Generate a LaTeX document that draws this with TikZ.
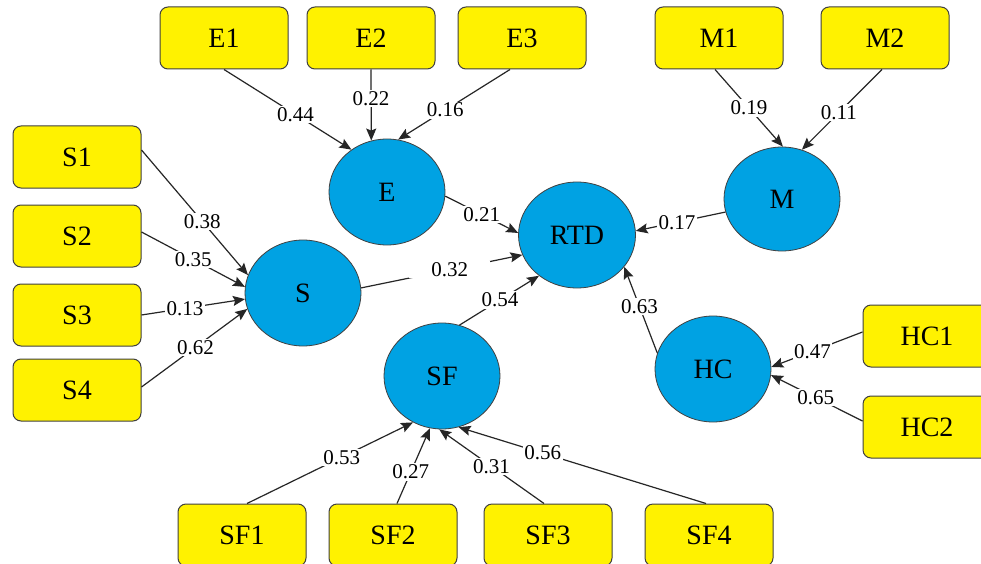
\documentclass[tikz,border=0pt]{standalone}
\usepackage{fontspec}
\setmainfont{Liberation Serif}
\usetikzlibrary{shapes.geometric,arrows.meta}
\definecolor{boxyellow}{RGB}{255,242,0}
\definecolor{circblue}{RGB}{0,162,227}
\definecolor{edgegray}{RGB}{64,64,64}
\tikzset{
  indic/.style={rectangle, rounded corners=8pt, draw=edgegray, line width=1pt, fill=boxyellow,
    minimum width=128pt, minimum height=62pt, inner sep=0pt, font=\fontsize{28}{30}\selectfont},
  latent/.style={ellipse, draw=edgegray, line width=0.8pt, fill=circblue,
    minimum width=116pt, minimum height=106pt, inner sep=0pt, font=\fontsize{28}{30}\selectfont},
  conn/.style={draw=black!85, line width=1.2pt, -{Stealth[length=12pt,width=10pt,inset=2pt]}},
  wt/.style={fill=white, inner sep=1.5pt, font=\fontsize{21}{22}\selectfont}
}
\begin{document}
\begin{tikzpicture}[x=1pt,y=-1pt]
\clip (0,0) rectangle (981,564);
\useasboundingbox (0,0) rectangle (981,564);
\fill[white] (0,0) rectangle (981,564);
% indicators
\node[indic] (E1) at (224,38) {E1};
\node[indic] (E2) at (371,38) {E2};
\node[indic] (E3) at (522,38) {E3};
\node[indic] (M1) at (719,38) {M1};
\node[indic] (M2) at (885,38) {M2};
\node[indic] (S1) at (77,157) {S1};
\node[indic] (S2) at (77,236) {S2};
\node[indic] (S3) at (77,315) {S3};
\node[indic] (S4) at (77,390) {S4};
\node[indic] (HC1) at (927,336) {HC1};
\node[indic] (HC2) at (927,427) {HC2};
\node[indic] (SF1) at (242,535) {SF1};
\node[indic] (SF2) at (393,535) {SF2};
\node[indic] (SF3) at (548,535) {SF3};
\node[indic] (SF4) at (709,535) {SF4};
% latent variables
\node[latent] (E) at (387,192) {E};
\node[latent, minimum width=117pt, minimum height=106pt] (RTD) at (577,235) {RTD};
\node[latent, minimum height=104pt] (M) at (782,199) {M};
\node[latent] (S) at (303,293) {S};
\node[latent] (SF) at (442,376) {SF};
\node[latent] (HC) at (713,369) {HC};
% connectors
\draw[conn] (E1.south) -- node[wt,pos=.56]{0.44} (E.130);
\draw[conn] (E2.south) -- node[wt,pos=.41]{0.22} (E.107);
\draw[conn] ([xshift=-12pt]E3.south) -- node[wt,pos=.58]{0.16} (E.78);
\draw[conn] ([xshift=-4pt]M1.south) -- node[wt,pos=.5]{0.19} (M.89);
\draw[conn] ([xshift=-3pt]M2.south) -- node[wt,pos=.54]{0.11} (M.68);
\draw[conn] ([yshift=7pt]S1.east) -- node[wt,pos=.57]{0.38} (S.162);
\draw[conn] ([yshift=4pt]S2.east) -- node[wt,pos=.5]{0.35} (S.174);
\draw[conn] (S3.east) -- node[wt,pos=.42]{0.13} (S.186);
\draw[conn] ([yshift=3pt]S4.east) -- node[wt,pos=.51]{0.62} (S.196);
\draw[conn] (E.356) -- node[wt,pos=.5]{0.21} (RTD.178);
\draw[conn] (S.5) -- node[wt,pos=.55,inner xsep=22pt]{0.32} (RTD.200);
\draw[conn] (SF.71) -- node[wt,pos=.51]{0.54} (RTD.227);
\draw[conn] (M.193) -- node[wt,pos=.54]{0.17} (RTD.4);
\draw[conn] (HC.164) -- node[wt,pos=.54]{0.63} (RTD.326);
\draw[conn] ([yshift=4pt]HC1.west) -- node[wt,pos=.55]{0.47} (HC.2);
\draw[conn] ([yshift=6pt]HC2.west) -- node[wt,pos=.51]{0.65} (HC.354);
\draw[conn] ([xshift=5pt]SF1.north) -- node[wt,pos=.57]{0.53} (SF.238);
\draw[conn] ([xshift=4pt]SF2.north) -- node[wt,pos=.42]{0.27} (SF.257);
\draw[conn] ([xshift=-4pt]SF3.north) -- node[wt,pos=.5]{0.31} (SF.267);
\draw[conn] ([xshift=-3pt]SF4.north) -- node[wt,pos=.66]{0.56} (SF.288);
\end{tikzpicture}
\end{document}
